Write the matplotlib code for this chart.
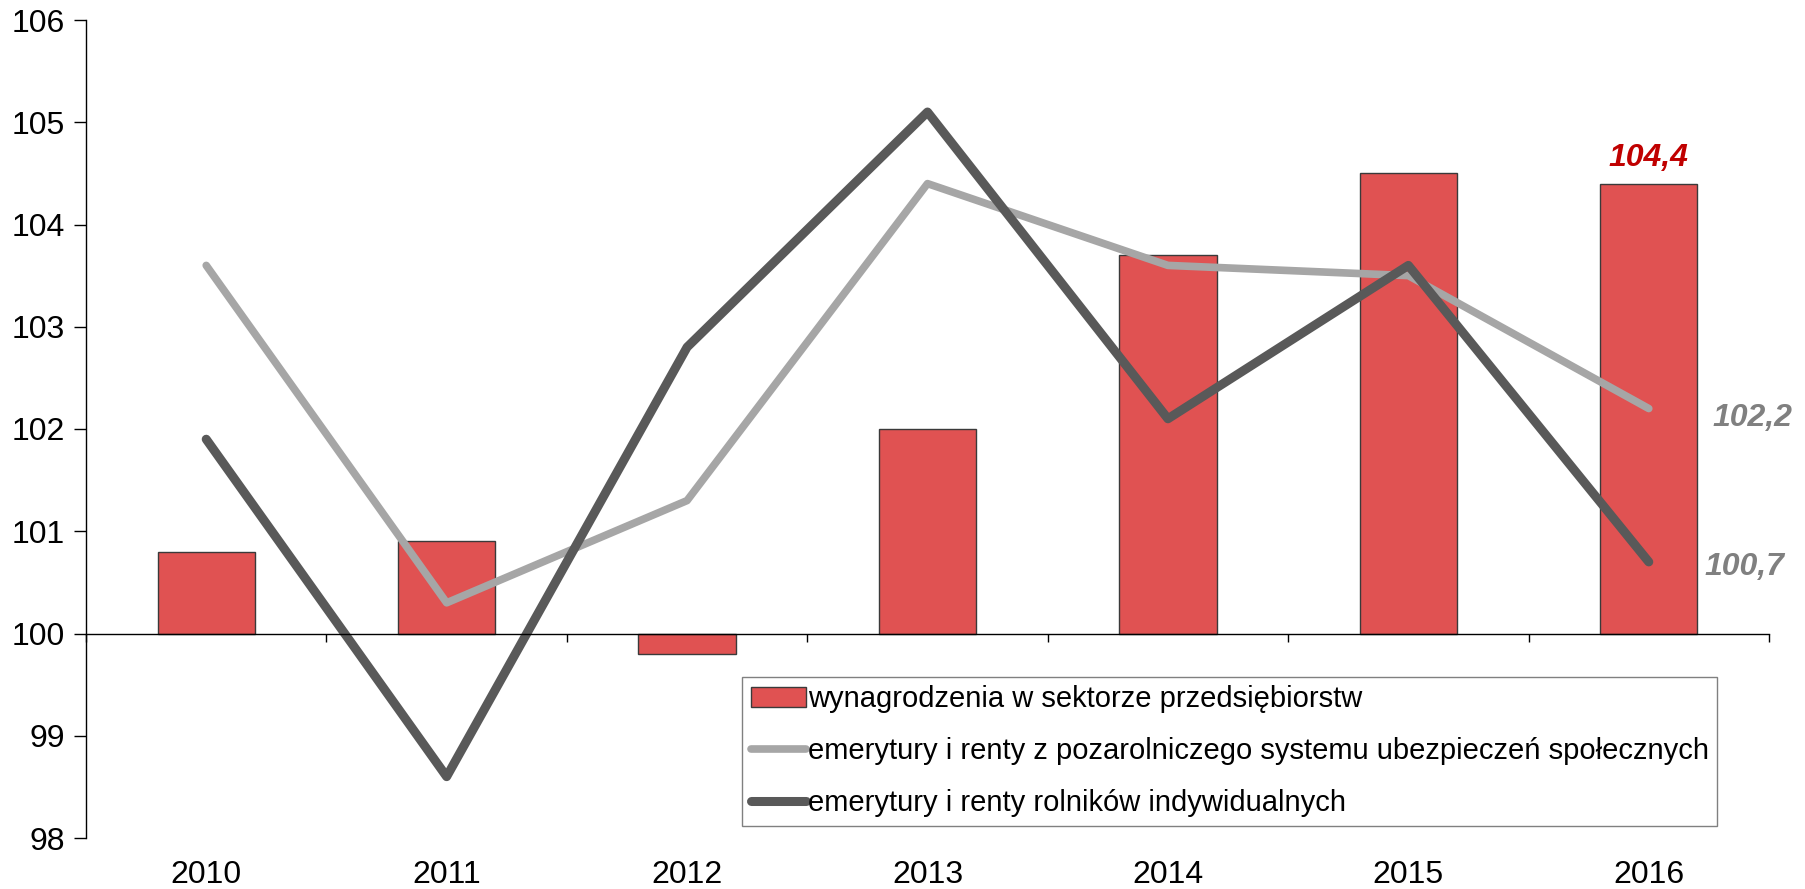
import matplotlib
matplotlib.use("Agg")
import matplotlib.pyplot as plt
import numpy as np

plt.rcParams['font.family'] = ['Liberation Sans', 'DejaVu Sans']

years = ["2010", "2011", "2012", "2013", "2014", "2015", "2016"]
wages = [100.8, 100.9, 99.8, 102.0, 103.7, 104.5, 104.4]
pensions_nonagri = [103.6, 100.3, 101.3, 104.4, 103.6, 103.5, 102.2]
pensions_farmers = [101.9, 98.6, 102.8, 105.1, 102.1, 103.6, 100.7]
yticks = [98, 99, 100, 101, 102, 103, 104, 105, 106]

label_wages = "wynagrodzenia w sektorze przedsiębiorstw"
label_nonagri = "emerytury i renty z pozarolniczego systemu ubezpieczeń społecznych"
label_farmers = "emerytury i renty rolników indywidualnych"

fig = plt.figure(figsize=(18.05, 8.89), dpi=100)
ax = fig.add_axes([86/1805, 1-838/889, (1769-86)/1805, (838-20)/889])

x = np.arange(len(years))
base = 100
bars = ax.bar(x, np.array(wages) - base, bottom=base, width=0.405, color='#E05252',
              edgecolor='#3a3a3a', linewidth=1.0, label=label_wages, zorder=2)
l1, = ax.plot(x, pensions_nonagri, color='#A6A6A6', lw=5.5, solid_capstyle='round',
              solid_joinstyle='round', label=label_nonagri, zorder=3)
l2, = ax.plot(x, pensions_farmers, color='#595959', lw=6.5, solid_capstyle='round',
              solid_joinstyle='round', label=label_farmers, zorder=4)

ax.set_xlim(-0.5, len(years) - 0.5)
ax.set_ylim(98, 106)
ax.set_yticks(yticks)
ax.set_yticklabels([str(v) for v in yticks], fontsize=23)
ax.tick_params(axis='y', direction='out', length=9, width=1, pad=6)

ax.spines['top'].set_visible(False)
ax.spines['right'].set_visible(False)
ax.spines['bottom'].set_position(('data', 100))
ax.spines['bottom'].set_linewidth(1)
ax.spines['left'].set_linewidth(1)
ax.spines['bottom'].set_zorder(5)

ax.set_xticks(np.arange(-0.5, len(years), 1.0))
ax.set_xticklabels([])
ax.tick_params(axis='x', direction='out', length=6, width=1)

sec = ax.secondary_xaxis(0)
sec.set_xticks(x)
sec.set_xticklabels(years, fontsize=23)
sec.tick_params(length=0, pad=16)
sec.spines['bottom'].set_visible(False)

# annotations
ax.annotate("104,4", (x[-1], wages[-1]), xytext=(0, 13), textcoords='offset points',
            ha='center', va='baseline', fontsize=23, fontweight='bold', fontstyle='italic',
            color='#C00000')
ax.annotate("102,2", (x[-1], pensions_nonagri[-1]), xytext=(46, -7), textcoords='offset points',
            ha='left', va='center', fontsize=23, fontweight='bold', fontstyle='italic',
            color='#808080')
ax.annotate("100,7", (x[-1], pensions_farmers[-1]), xytext=(40, -4), textcoords='offset points',
            ha='left', va='center', fontsize=23, fontweight='bold', fontstyle='italic',
            color='#808080')

leg = ax.legend(handles=[bars, l1, l2], labels=[label_wages, label_nonagri, label_farmers],
                loc='lower left', bbox_to_anchor=(742/1805, 1-826/889),
                bbox_transform=fig.transFigure, borderaxespad=0, fontsize=21,
                frameon=True, fancybox=False, edgecolor='#808080', framealpha=1,
                handlelength=1.9, handletextpad=0.05, labelspacing=0.82,
                borderpad=0.3)
leg.get_frame().set_linewidth(1)
leg.set_zorder(10)

fig.savefig("out.png", dpi=100)
